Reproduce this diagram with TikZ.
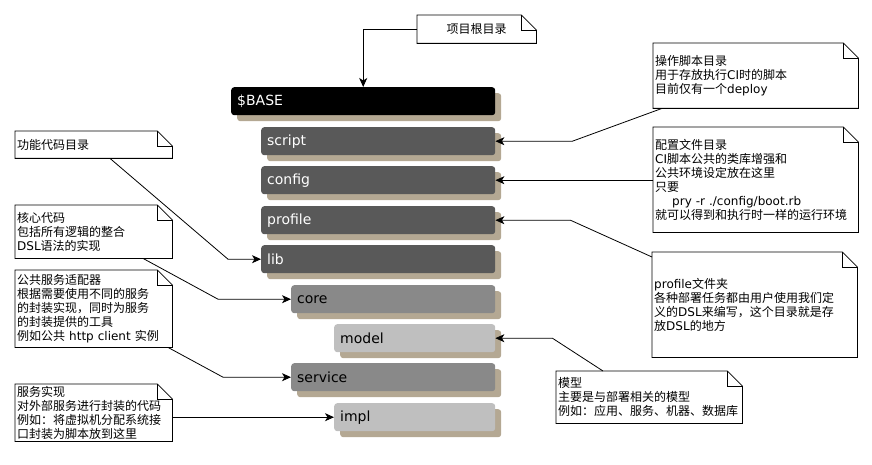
\documentclass[tikz,border=0pt]{standalone}
\usepackage{fontspec}
\setmainfont{DejaVu Sans}
\newfontfamily\cjk{Noto Sans CJK SC}
\newfontfamily\latn{DejaVu Sans}
\usetikzlibrary{arrows.meta,shadows,calc}
\definecolor{shadowc}{HTML}{B4A893}
\definecolor{darkbox}{HTML}{595959}
\definecolor{midbox}{HTML}{898989}
\definecolor{lightbox}{HTML}{BFBFBF}
\newcommand\foldnote[1]{%
  \draw[notedraw] (#1.north west) -- ($(#1.north east)+(-15,0)$) -- ($(#1.north east)+(0,15)$) -- (#1.south east) -- (#1.south west) -- cycle;
  \draw[notedraw] ($(#1.north east)+(-15,0)$) -- ($(#1.north east)+(-15,15)$) -- ($(#1.north east)+(0,15)$);}
\begin{document}
\begin{tikzpicture}[x=1pt,y=-1pt,
  dirbox/.style={rounded corners=3pt, inner xsep=6pt, inner ysep=0pt, minimum height=28pt,
    anchor=north west, font=\fontsize{14}{16}\selectfont, align=left,
    drop shadow={shadow xshift=6pt,shadow yshift=-6pt,fill=shadowc,opacity=1}},
  notebox/.style={draw=none, inner xsep=2pt, inner ysep=0pt, anchor=north west, align=left,
    font=\cjk\fontsize{12}{14}\selectfont},
  notedraw/.style={draw=black, line width=0.8pt},
  conn/.style={draw=black, line width=0.8pt, -{Stealth[length=9pt,width=8pt,inset=2.5pt]}}]
\useasboundingbox (0,0) rectangle (872,465);

% directory boxes
\node[dirbox, fill=black, text=white, text width=252pt] (base) at (231,87) {\$BASE};
\node[dirbox, fill=darkbox, text=white, text width=222pt] (script) at (261,127) {script};
\node[dirbox, fill=darkbox, text=white, text width=222pt] (config) at (261,166) {config};
\node[dirbox, fill=darkbox, text=white, text width=222pt] (profile) at (261,206) {profile};
\node[dirbox, fill=darkbox, text=white, text width=222pt] (lib) at (261,245) {lib};
\node[dirbox, fill=midbox, text=black, text width=192pt] (core) at (291,285) {core};
\node[dirbox, fill=lightbox, text=black, text width=149pt] (model) at (334,324) {model};
\node[dirbox, fill=midbox, text=black, text width=192pt] (service) at (291,363) {service};
\node[dirbox, fill=lightbox, text=black, text width=149pt] (impl) at (334,403) {impl};

% notes
\node[notebox, align=center, minimum width=119pt, minimum height=28pt, text width=115pt] (nroot) at (417,15) {项目根目录};
\foldnote{nroot}
\node[notebox, minimum width=205pt, minimum height=65pt, text width=201pt] (nscript) at (653,43)
  {操作脚本目录\\用于存放执行{\latn CI}时的脚本\\目前仅有一个{\latn deploy}};
\foldnote{nscript}
\node[notebox, minimum width=205pt, minimum height=105pt, text width=201pt] (nconfig) at (653,127)
  {配置文件目录\\{\latn CI}脚本公共的类库增强和\\公共环境设定放在这里\\只要\\\hspace*{17pt}{\latn pry -r ./config/boot.rb}\\就可以得到和执行时一样的运行环境};
\foldnote{nconfig}
\node[notebox, minimum width=205pt, minimum height=105pt, text width=201pt] (nprofile) at (652,252)
  {{\latn profile}文件夹\\各种部署任务都由用户使用我们定\\义的{\latn DSL}来编写，这个目录就是存\\放{\latn DSL}的地方};
\foldnote{nprofile}
\node[notebox, minimum width=186pt, minimum height=52pt, text width=182pt] (nmodel) at (556,371)
  {模型\\主要是与部署相关的模型\\例如：应用、服务、机器、数据库};
\foldnote{nmodel}
\node[notebox, minimum width=157pt, minimum height=27pt, text width=153pt] (nfunc) at (15,131)
  {功能代码目录};
\foldnote{nfunc}
\node[notebox, minimum width=157pt, minimum height=53pt, text width=153pt] (ncore) at (15,205)
  {核心代码\\包括所有逻辑的整合\\{\latn DSL}语法的实现};
\foldnote{ncore}
\node[notebox, minimum width=157pt, minimum height=77pt, text width=153pt] (nservice) at (15,270)
  {公共服务适配器\\根据需要使用不同的服务\\的封装实现，同时为服务\\的封装提供的工具\\例如公共 {\latn http client} 实例};
\foldnote{nservice}
\node[notebox, minimum width=157pt, minimum height=57pt, text width=153pt] (nimpl) at (15,384)
  {服务实现\\对外部服务进行封装的代码\\例如：将虚拟机分配系统接\\口封装为脚本放到这里};
\foldnote{nimpl}

% connectors
\draw[conn] (nroot.west) -| (base.north);
\draw[conn] ($(nscript.south west)+(9,0)$) -- ($(script.east)+(77,0)$) -- (script.east);
\draw[conn] (nconfig.west |- config.east) -- (config.east);
\draw[conn] ($(nprofile.north west)+(0,5)$) -- ($(profile.east)+(75,0)$) -- (profile.east);
\draw[conn] ($(nmodel.north west)+(47,0)$) -- ($(model.east)+(57,0)$) -- (model.east);
\draw[conn] ($(nfunc.south west)+(95,0)$) -- ($(lib.west)+(-33,0)$) -- (lib.west);
\draw[conn] ($(ncore.south west)+(128,0)$) -- ($(core.west)+(-73,0)$) -- (core.west);
\draw[conn] ($(nservice.south west)+(153,0)$) -- ($(service.west)+(-68,0)$) -- (service.west);
\draw[conn] (nimpl.east |- impl.west) -- (impl.west);
\end{tikzpicture}
\end{document}
